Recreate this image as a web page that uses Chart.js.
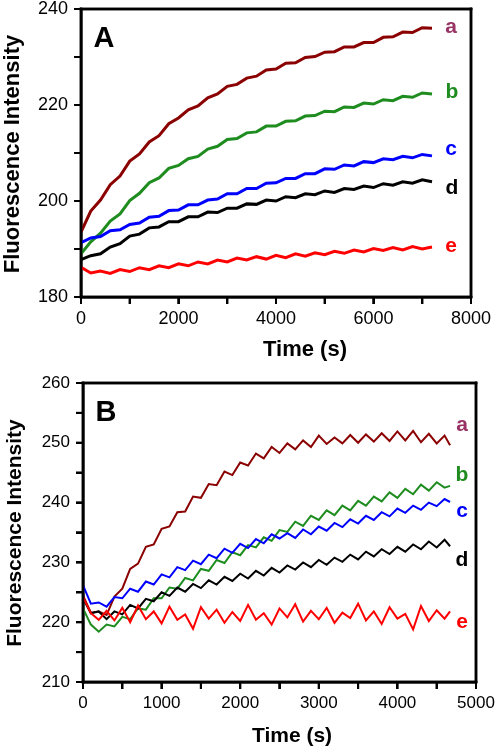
<!DOCTYPE html>
<html><head><meta charset="utf-8">
<script src="https://cdn.jsdelivr.net/npm/chart.js@4"></script>
<style>
html,body{margin:0;padding:0;background:#fff;}
.wrap{position:absolute;left:0;width:500px;height:375px;}
#wa{top:0;} #wb{top:375px;}
canvas{display:block;}
.fr{position:absolute;background:#000;pointer-events:none;}
</style></head><body>
<div class="wrap" id="wa"><canvas id="ca" width="500" height="375"></canvas></div>
<div class="wrap" id="wb"><canvas id="cb" width="500" height="375"></canvas></div>
<script>
// ---------- Panel A data (time in s) ----------
const timeA = [0,200,400,600,800,1000,1200,1400,1600,1800,2000,2200,2400,2600,2800,3000,3200,3400,3600,3800,4000,4200,4400,4600,4800,5000,5200,5400,5600,5800,6000,6200,6400,6600,6800,7000,7200];
const seriesA_a = [193.5,197.9,200.2,203.4,205.2,208.3,209.8,212.3,213.6,216.1,217.3,219.0,219.8,221.5,222.3,223.9,224.3,225.6,226.0,227.3,227.5,228.7,228.8,229.9,230.1,231.0,231.1,232.1,232.1,233.0,233.0,234.1,234.2,235.2,235.1,236.1,236.0];
const seriesA_b = [189.0,191.5,193.3,195.8,197.3,200.1,201.6,203.8,204.8,206.8,207.4,208.8,209.3,210.8,211.4,212.8,213.0,214.2,214.4,215.6,215.6,216.6,216.7,217.7,217.8,218.7,218.6,219.6,219.5,220.4,220.2,221.1,220.9,221.8,221.6,222.5,222.3];
const seriesA_c = [191.3,192.3,192.6,193.8,194.0,195.1,195.4,196.6,196.8,198.0,198.1,199.2,199.2,200.2,200.4,201.5,201.5,202.6,202.6,203.7,203.8,204.7,204.7,205.7,205.7,206.7,206.6,207.5,207.3,208.2,208.0,208.8,208.6,209.3,209.0,209.7,209.4];
const seriesA_d = [187.8,188.6,189.0,190.4,191.1,192.7,193.1,194.4,194.6,195.7,195.7,196.7,196.7,197.7,197.6,198.5,198.5,199.4,199.3,200.2,200.0,200.9,200.7,201.5,201.3,202.1,201.8,202.6,202.4,203.1,202.8,203.6,203.3,204.0,203.7,204.4,204.0];
const seriesA_e = [186.2,185.0,185.4,184.9,185.7,185.3,186.1,185.7,186.5,186.1,186.9,186.5,187.3,186.9,187.7,187.3,188.1,187.7,188.4,187.9,188.7,188.2,189.0,188.5,189.2,188.8,189.5,189.1,189.8,189.4,190.1,189.7,190.3,189.8,190.5,190.0,190.4];

// ---------- Panel B data ----------
const timeB = [0,100,200,300,400,500,600,700,800,900,1000,1100,1200,1300,1400,1500,1600,1700,1800,1900,2000,2100,2200,2300,2400,2500,2600,2700,2800,2900,3000,3100,3200,3300,3400,3500,3600,3700,3800,3900,4000,4100,4200,4300,4400,4500,4600,4670];
const seriesB_a = [224.5,221.6,221.8,221.2,224.3,225.6,228.9,229.8,232.6,233.0,235.6,236.0,238.4,238.5,241.0,240.8,243.1,242.9,245.2,244.6,246.7,246.2,248.2,247.4,249.3,248.3,249.9,248.9,250.4,249.3,251.2,249.8,250.9,249.9,251.3,250.0,251.4,250.2,251.6,250.3,251.9,250.4,252.0,250.1,251.5,249.9,251.2,249.6];
const seriesB_b = [222.3,219.6,218.4,219.6,219.3,220.9,220.5,222.3,222.1,224.0,224.0,225.8,225.6,227.4,227.0,228.9,228.6,230.4,229.9,231.7,231.2,232.9,232.5,234.2,233.6,235.4,235.1,236.8,236.1,237.8,237.1,238.7,237.9,239.5,238.7,240.3,239.5,241.0,240.2,241.7,240.8,242.3,241.4,243.0,242.0,243.4,242.5,242.8];
const seriesB_c = [226.2,223.1,223.3,222.6,224.2,224.0,225.6,225.1,226.8,226.3,228.0,227.5,229.2,228.7,230.3,229.7,231.3,230.7,232.3,231.6,233.1,232.4,233.9,233.2,234.7,234.0,234.9,234.1,235.5,234.7,236.0,235.3,236.6,235.9,237.2,236.5,237.8,237.1,238.4,237.7,239.0,238.3,239.5,238.8,240.0,239.4,240.6,240.1];
const seriesB_d = [224.0,221.5,221.8,220.5,221.8,221.3,222.9,222.3,223.9,223.5,225.0,224.4,225.8,225.1,226.4,225.7,227.0,226.3,227.6,226.9,228.1,227.3,228.6,227.8,229.1,228.3,229.5,228.8,230.0,229.2,230.4,229.6,230.8,230.1,231.3,230.5,231.8,231.0,232.2,231.4,232.6,231.8,233.0,232.2,233.5,232.5,233.8,232.7];
const seriesB_e = [224.2,221.5,220.4,221.9,220.3,222.4,220.0,222.8,220.5,221.8,219.8,222.6,220.4,221.3,218.9,222.5,220.6,222.1,219.9,221.7,220.2,222.9,220.4,221.5,219.6,222.3,220.8,223.0,220.1,221.9,220.5,222.4,219.9,221.6,220.7,223.1,220.3,221.8,219.7,222.5,220.6,221.4,218.8,222.7,220.2,222.0,220.6,221.8];

const seriesNames = ['a','b','c','d','e'];
const lineColors = ['#8B0000','#1E8C1E','#0000FF','#000000','#FF0000'];
const labelColors = ['#993366','#1E8C1E','#0000FF','#000000','#FF0000'];

const FONT = 'Arial, "Liberation Sans", Helvetica, sans-serif';

function pts(t, v){ return t.map((x,i)=>({x:x, y:v[i]})); }

function makeDatasets(time, arrs, lw){
  const ds = arrs.map((v,i)=>({
    data: pts(time, v), borderColor: lineColors[i], borderWidth: lw, pointRadius: 0
  }));
  return ds.reverse();
}

function drawFrame(chart){
  const ctx = chart.ctx;
  const xs = chart.scales.x, ys = chart.scales.y;
  if (!xs || !ys) return;
  const L = xs.left, R = xs.right, T = ys.top, B = ys.bottom;
  ctx.save();
  ctx.fillStyle = '#000';
  ctx.fillRect(L - 1.25, T - 1.25, R - L + 2.5, 2.5);
  ctx.fillRect(L - 1.25, B - 1.25, R - L + 2.5, 2.5);
  ctx.fillRect(L - 1.25, T - 1.25, 2.5, B - T + 2.5);
  ctx.fillRect(R - 1.25, T - 1.25, 2.5, B - T + 2.5);
  xs.ticks.forEach(t => { const px = xs.getPixelForValue(t.value); ctx.fillRect(px - 1, B, 2, 7); });
  ys.ticks.forEach(t => { const py = ys.getPixelForValue(t.value); ctx.fillRect(L - 7, py - 1, 7, 2); });
  ctx.restore();
}

function panelPlugin(cfg){
  return {
    id: 'd' + cfg.canvas,
    beforeDatasetsDraw(chart){ drawFrame(chart); },
    afterDraw(chart){
      drawFrame(chart);
      const ctx = chart.ctx;
      ctx.save();
      ctx.font = 'bold ' + cfg.letterSize + 'px ' + FONT;
      ctx.textAlign = 'center'; ctx.textBaseline = 'middle';
      ctx.fillStyle = '#000';
      ctx.fillText(cfg.letter, cfg.letterPos[0], cfg.letterPos[1]);
      ctx.font = 'bold 21px ' + FONT;
      cfg.labelPos.forEach((p,i)=>{
        ctx.fillStyle = labelColors[i];
        ctx.fillText(seriesNames[i], p[0], p[1]);
      });
      ctx.fillStyle = '#000';
      ctx.font = 'bold ' + cfg.titleSize + 'px ' + FONT;
      ctx.fillText('Time (s)', cfg.xTitlePos[0], cfg.xTitlePos[1]);
      ctx.translate(cfg.yTitlePos[0], cfg.yTitlePos[1]);
      ctx.rotate(-Math.PI/2);
      ctx.fillText('Fluorescence Intensity', 0, 0);
      ctx.restore();
    }
  };
}

// DOM copy of the frame and tick marks, placed with the chart's own scales
function overlay(chart, wrapId){
  try {
    const wrap = document.getElementById(wrapId);
    const xs = chart.scales && chart.scales.x, ys = chart.scales && chart.scales.y;
    if (!xs || !ys || !isFinite(xs.left) || !isFinite(ys.top)) return false;
    wrap.querySelectorAll('.fr').forEach(n => n.remove());
    const L = xs.left, R = xs.right, T = ys.top, B = ys.bottom;
    const add = (x, y, w, h) => {
      const d = document.createElement('div');
      d.className = 'fr';
      d.style.left = x + 'px'; d.style.top = y + 'px';
      d.style.width = w + 'px'; d.style.height = h + 'px';
      wrap.appendChild(d);
    };
    add(L - 1.25, T - 1.25, R - L + 2.5, 2.5);
    add(L - 1.25, B - 1.25, R - L + 2.5, 2.5);
    add(L - 1.25, T - 1.25, 2.5, B - T + 2.5);
    add(R - 1.25, T - 1.25, 2.5, B - T + 2.5);
    xs.ticks.forEach(t => add(xs.getPixelForValue(t.value) - 1, B, 2, 7));
    ys.ticks.forEach(t => add(L - 7, ys.getPixelForValue(t.value) - 1, 7, 2));
    return true;
  } catch (e) { return false; }
}

function makeChart(cfg){
  const xScale = {
    type: 'linear', min: cfg.xMin, max: cfg.xMax,
    ticks: { stepSize: cfg.xStep, autoSkip: false, maxRotation: 0, padding: cfg.xPad,
      color: '#000', font: { family: FONT, size: cfg.tickSize },
      callback: v => (v % cfg.xLabelEvery === 0 ? String(v) : '') },
    grid: { drawOnChartArea: false, color: '#000', lineWidth: 2, tickLength: 7 },
    border: { display: true, color: '#000', width: 2.5 }
  };
  xScale.afterFit = s => { s.height = cfg.xHeight; s.paddingLeft = 0; s.paddingRight = 0; };
  const yScale = {
    type: 'linear', min: cfg.yMin, max: cfg.yMax,
    ticks: { stepSize: cfg.yStep, autoSkip: false, padding: cfg.yPad,
      color: '#000', font: { family: FONT, size: cfg.tickSize },
      callback: v => (v % cfg.yLabelEvery === 0 ? String(v) : '') },
    grid: { drawOnChartArea: false, color: '#000', lineWidth: 2, tickLength: 7 },
    border: { display: true, color: '#000', width: 2.5 }
  };
  yScale.afterFit = s => { s.width = cfg.yWidth; s.paddingTop = 0; s.paddingBottom = 0; };
  const chart = new Chart(document.getElementById(cfg.canvas), {
    type: 'line',
    data: { datasets: makeDatasets(cfg.time, cfg.series, cfg.lw) },
    options: {
      responsive: false, animation: false, devicePixelRatio: 1,
      layout: { padding: { top: cfg.padTop, right: cfg.padRight, left: 0, bottom: 0 } },
      plugins: { legend: { display: false }, tooltip: { enabled: false } },
      scales: { x: xScale, y: yScale }
    },
    plugins: [panelPlugin(cfg)]
  });
  overlay(chart, cfg.wrap);
  setTimeout(() => overlay(chart, cfg.wrap), 0);
  requestAnimationFrame(() => overlay(chart, cfg.wrap));
  window.addEventListener('load', () => overlay(chart, cfg.wrap));
  return chart;
}

makeChart({
  canvas: 'ca', wrap: 'wa',
  letter: 'A', letterSize: 29, letterPos: [104, 39],
  time: timeA, series: [seriesA_a, seriesA_b, seriesA_c, seriesA_d, seriesA_e], lw: 3,
  padTop: 9, padRight: 29, xHeight: 78, yWidth: 81,
  xMin: 0, xMax: 8000, xStep: 1000, xLabelEvery: 2000,
  yMin: 180, yMax: 240, yStep: 10, yLabelEvery: 20,
  tickSize: 18, xPad: 4, yPad: 6, titleSize: 22,
  xTitlePos: [305, 350], yTitlePos: [13, 154],
  labelPos: [[451,27],[452,92],[451,149],[452,188],[451,246]]
});

makeChart({
  canvas: 'cb', wrap: 'wb',
  letter: 'B', letterSize: 29, letterPos: [106, 38],
  time: timeB, series: [seriesB_a, seriesB_b, seriesB_c, seriesB_d, seriesB_e], lw: 2,
  padTop: 8, padRight: 24, xHeight: 68, yWidth: 83,
  xMin: 0, xMax: 5000, xStep: 500, xLabelEvery: 1000,
  yMin: 210, yMax: 260, yStep: 5, yLabelEvery: 10,
  tickSize: 17, xPad: 4, yPad: 6, titleSize: 21,
  xTitlePos: [292, 361], yTitlePos: [15, 158],
  labelPos: [[462,50],[462,100],[462,136],[462,185],[462,247]]
});
</script>
</body></html>
